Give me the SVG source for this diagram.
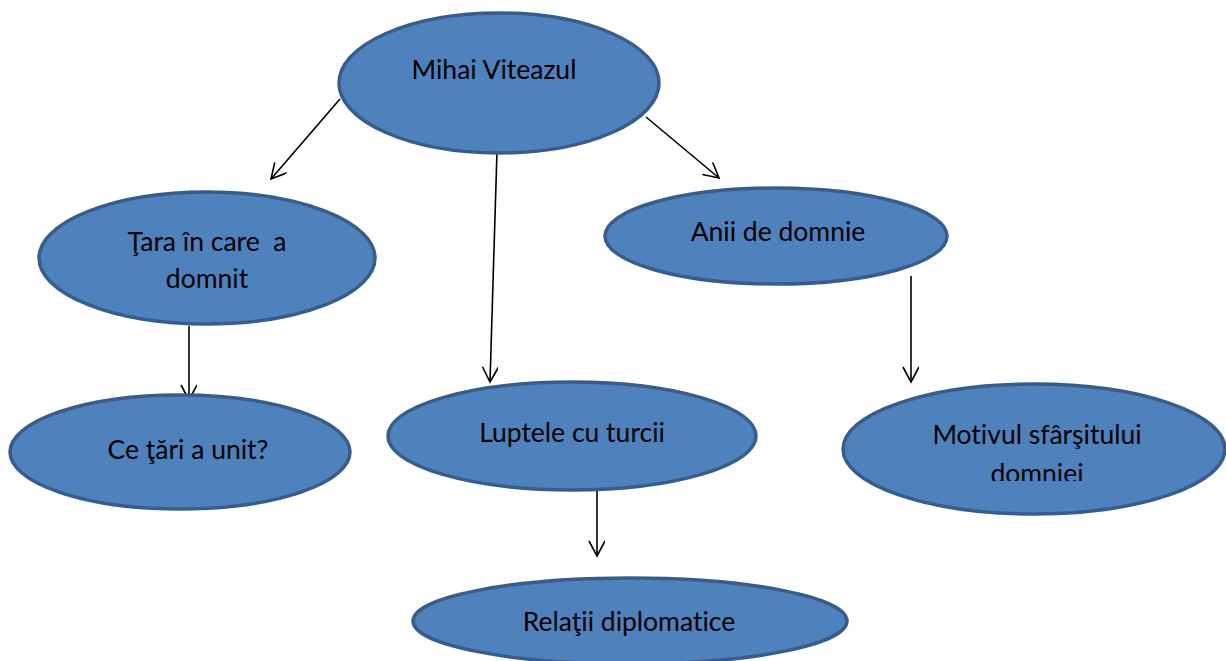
<svg xmlns="http://www.w3.org/2000/svg" width="1226" height="661" viewBox="0 0 1226 661">
<style>
.n{fill:#4f81bd;stroke:#385d8a;stroke-width:3.5}
.t{font-family:Lato,"Open Sans","Liberation Sans",sans-serif;font-size:26.5px;fill:#000;text-anchor:middle;font-variant-ligatures:none;white-space:pre}
.c{stroke:#000;stroke-width:1.6;fill:none;marker-end:url(#a)}
</style>
<defs>
<marker id="a" markerWidth="20" markerHeight="20" refX="16" refY="8" orient="auto" markerUnits="userSpaceOnUse">
<path d="M1,0 L16,8 L1,16" fill="none" stroke="#000" stroke-width="1.6"/>
</marker>
<clipPath id="mc"><rect x="840" y="380" width="390" height="101"/></clipPath>
</defs>
<rect width="1226" height="661" fill="#fff"/>
<g id="connectors">
<line class="c" x1="340" y1="99" x2="271" y2="179"/>
<line class="c" x1="497" y1="151" x2="490" y2="382"/>
<line class="c" x1="646" y1="117" x2="719" y2="178"/>
<line class="c" x1="189" y1="326" x2="189" y2="400"/>
<line class="c" x1="911" y1="276" x2="911" y2="382"/>
<line class="c" x1="597" y1="491" x2="597" y2="556"/>
</g>
<g id="mihai"><ellipse class="n" cx="499" cy="83" rx="160" ry="70"/><text class="t" x="494" y="79">Mihai Viteazul</text></g>
<g id="tara"><ellipse class="n" cx="207" cy="258" rx="168" ry="66"/><text class="t" x="207" y="251" xml:space="preserve">Ţara în care  a</text><text class="t" x="207" y="288">domnit</text></g>
<g id="anii"><ellipse class="n" cx="776" cy="236" rx="171" ry="48"/><text class="t" x="778" y="241">Anii de domnie</text></g>
<g id="ce"><ellipse class="n" cx="180" cy="452" rx="170" ry="57"/><text class="t" x="188" y="459">Ce ţări a unit?</text></g>
<g id="luptele"><ellipse class="n" cx="572" cy="436" rx="184" ry="54"/><text class="t" x="572" y="442">Luptele cu turcii</text></g>
<g id="motiv"><ellipse class="n" cx="1034" cy="449" rx="191" ry="65"/><g clip-path="url(#mc)"><text class="t" x="1037" y="444">Motivul sfârşitului</text><text class="t" x="1037" y="483">domniei</text></g></g>
<g id="relatii"><ellipse class="n" cx="630" cy="621" rx="217" ry="43"/><text class="t" x="629" y="631">Relaţii diplomatice</text></g>
</svg>
